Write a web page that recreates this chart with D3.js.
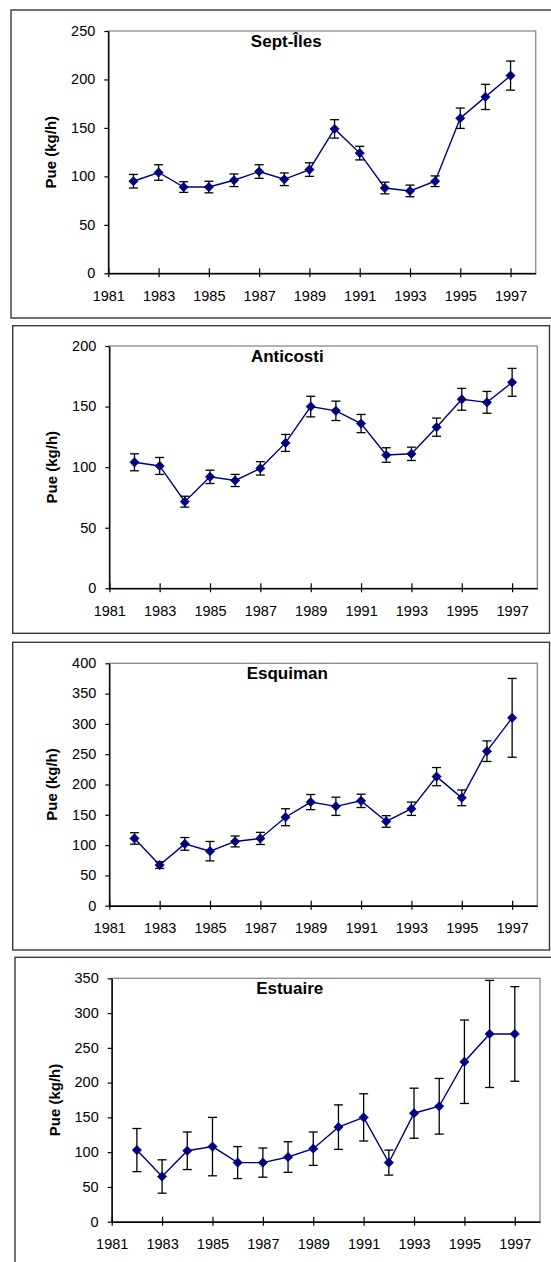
<!DOCTYPE html>
<html>
<head>
<meta charset="utf-8">
<script src="https://cdn.jsdelivr.net/npm/d3@7"></script>
<style>
  html, body { margin: 0; padding: 0; background: #fff; }
  svg { display: block; }
  text { font-family: "Liberation Sans", Arial, sans-serif; fill: #000; }
</style>
</head>
<body>
<svg id="chart" width="551" height="1262"></svg>
<script>
// ---- data ----
const years = [1982, 1983, 1984, 1985, 1986, 1987, 1988, 1989, 1990, 1991, 1992, 1993, 1994, 1995, 1996, 1997];
const yearTicks = [1981, 1983, 1985, 1987, 1989, 1991, 1993, 1995, 1997];
const panelTitles = ["Sept-Îles", "Anticosti", "Esquiman", "Estuaire"];
const yAxisTitle = "Pue (kg/h)";

const septIles    = [95, 104, 89, 89, 96, 105, 97, 107, 149, 124, 88, 85, 95, 160, 182, 204];
const septIlesErr = [7, 8, 5.5, 6, 6.5, 7, 6.5, 7, 9.5, 7, 6, 6, 5.5, 10.5, 13, 15];

const anticosti    = [104, 101, 71.5, 92, 89, 99, 120, 150, 146.5, 136, 110, 111, 133, 156, 153.5, 170];
const anticostiErr = [7, 7, 4.5, 5.5, 5, 5.5, 7, 8.5, 8, 7.5, 6, 5.5, 7.5, 9, 9, 11.5];

const esquiman    = [111, 67, 102, 90, 106, 111, 146, 171, 164, 173, 139, 160, 213, 178, 255, 310];
const esquimanErr = [9.5, 5.5, 10.5, 16, 9, 10, 14, 12.5, 15, 11, 9.5, 11, 15, 13, 17, 65];

const estuaire    = [103, 65, 102, 108, 85, 85, 93, 105, 136, 150, 85, 156, 166, 230, 270, 270];
const estuaireErr = [31, 24, 27, 42, 23, 21, 22, 24, 32, 34, 18, 36, 40, 60, 77, 68];

const yTicks1 = [0, 50, 100, 150, 200, 250];
const yTicks2 = [0, 50, 100, 150, 200];
const yTicks3 = [0, 50, 100, 150, 200, 250, 300, 350, 400];
const yTicks4 = [0, 50, 100, 150, 200, 250, 300, 350];

// ---- layout (positions only) ----
const panels = [
  { title: panelTitles[0], values: septIles,  errs: septIlesErr,  ticks: yTicks1,
    frame: [11, 10, 570, 318], plot: [108.3, 31, 535.7, 273.3], rightBorder: false },
  { title: panelTitles[1], values: anticosti, errs: anticostiErr, ticks: yTicks2,
    frame: [12.7, 325.7, 549.5, 633.3], plot: [109.3, 346, 537.3, 588.3], rightBorder: true },
  { title: panelTitles[2], values: esquiman,  errs: esquimanErr,  ticks: yTicks3,
    frame: [12.7, 642.3, 549.5, 950], plot: [109.3, 663.3, 537.3, 905.7], rightBorder: true },
  { title: panelTitles[3], values: estuaire,  errs: estuaireErr,  ticks: yTicks4,
    frame: [15, 957.3, 570, 1290], plot: [111.7, 978.3, 540, 1221.7], rightBorder: false }
];

const svg = d3.select("#chart");
const navy = "#000080";

panels.forEach(p => {
  const [fx0, fy0, fx1, fy1] = p.frame;
  const [L, T, R, B] = p.plot;

  // outer frame
  svg.append("rect")
    .attr("x", fx0).attr("y", fy0)
    .attr("width", fx1 - fx0).attr("height", fy1 - fy0)
    .attr("fill", "none").attr("stroke", "#3a3a3a").attr("stroke-width", 1.4);

  const x = d3.scaleLinear().domain([1981, 1998]).range([L, R]);
  const y = d3.scaleLinear().domain([0, d3.max(p.ticks)]).range([B, T]);

  // plot area border (gray)
  svg.append("rect")
    .attr("x", L).attr("y", T).attr("width", R - L).attr("height", B - T)
    .attr("fill", "none").attr("stroke", "#8a8a8a").attr("stroke-width", 1.3);

  // y axis
  const ya = svg.append("g").attr("transform", `translate(${L},0)`)
    .call(d3.axisLeft(y).tickValues(p.ticks).tickSize(4).tickSizeOuter(0).tickPadding(9).tickFormat(d3.format("d")));
  ya.select(".domain").attr("stroke", "#000").attr("stroke-width", 1.4);
  ya.selectAll(".tick line").attr("stroke", "#000").attr("stroke-width", 1.2);
  ya.selectAll(".tick text").attr("font-size", 14.5).attr("font-family", "Liberation Sans, Arial, sans-serif").attr("dy", "0.3em");

  // x axis
  const xa = svg.append("g").attr("transform", `translate(0,${B})`)
    .call(d3.axisBottom(x).tickValues(yearTicks).tickSize(4).tickSizeOuter(0).tickFormat(d3.format("d")));
  xa.select(".domain").attr("stroke", "#000").attr("stroke-width", 1.4);
  xa.selectAll(".tick line").attr("stroke", "#000").attr("stroke-width", 1.2).attr("y1", -5).attr("y2", 4);
  xa.selectAll(".tick text").attr("font-size", 14.5).attr("font-family", "Liberation Sans, Arial, sans-serif")
    .attr("y", 27.5).attr("dy", 0);

  // y-axis title
  svg.append("text")
    .attr("transform", `translate(${L - 52},${(T + B) / 2}) rotate(-90)`)
    .attr("text-anchor", "middle")
    .attr("font-size", 15).attr("font-weight", "bold")
    .text(yAxisTitle);

  // panel title
  svg.append("text")
    .attr("x", L + 178).attr("y", T + 16)
    .attr("text-anchor", "middle")
    .attr("font-size", 17).attr("font-weight", "bold")
    .text(p.title);

  const data = years.map((yr, i) => ({ yr, v: p.values[i], e: p.errs[i] }));

  // line
  svg.append("path").datum(data)
    .attr("fill", "none").attr("stroke", navy).attr("stroke-width", 1.4)
    .attr("d", d3.line().x(d => x(d.yr)).y(d => y(d.v)));

  // error bars
  const eb = svg.append("g").attr("stroke", "#000").attr("stroke-width", 1.3).attr("fill", "none");
  data.forEach(d => {
    const cx = x(d.yr), y0 = y(d.v - d.e), y1 = y(d.v + d.e);
    eb.append("line").attr("x1", cx).attr("x2", cx).attr("y1", y0).attr("y2", y1);
    eb.append("line").attr("x1", cx - 4.5).attr("x2", cx + 4.5).attr("y1", y0).attr("y2", y0);
    eb.append("line").attr("x1", cx - 4.5).attr("x2", cx + 4.5).attr("y1", y1).attr("y2", y1);
  });

  // diamond markers
  svg.append("g").selectAll("path").data(data).join("path")
    .attr("fill", navy).attr("stroke", navy).attr("stroke-width", 0.8)
    .attr("d", d => {
      const cx = x(d.yr), cy = y(d.v), r = 4.6;
      return `M${cx},${cy - r}L${cx + r},${cy}L${cx},${cy + r}L${cx - r},${cy}Z`;
    });
});
</script>
</body>
</html>
